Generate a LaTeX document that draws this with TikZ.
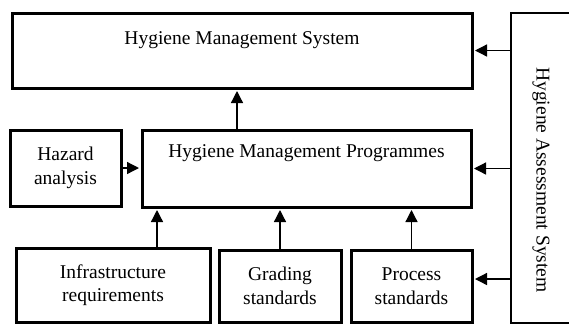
\documentclass[tikz,border=0pt]{standalone}
\usepackage{fontspec}
\setmainfont{Liberation Serif}
\usetikzlibrary{arrows.meta}

\begin{document}
\begin{tikzpicture}[x=1pt,y=-1pt,
  every node/.style={font=\fontsize{19.5}{23.5}\selectfont},
  box/.style={draw,line width=3pt,inner sep=0pt,align=center},
  arr/.style={line width=1.3pt,shorten >=1.5pt,-{Triangle[length=12pt,width=12pt]}}]
\useasboundingbox (0,0) rectangle (569,325);

\node[box,minimum width=460pt,text height=31pt,text depth=44pt] (hms) at (242,50.5) {Hygiene Management System};
\node[box,minimum width=329pt,text height=27.5pt,text depth=49.5pt] (prog) at (306.5,168.5) {Hygiene Management Programmes};
\node[box,minimum width=111pt,minimum height=76pt] (haz) at (65.5,168) {Hazard\\analysis};
\node[box,minimum width=194pt,minimum height=74pt] (infra) at (113,285) {Infrastructure\\requirements};
\node[box,minimum width=122pt,minimum height=72pt] (grad) at (280,286) {Grading\\standards};
\node[box,minimum width=121pt,minimum height=72pt] (proc) at (411.5,286) {Process\\standards};

\node[draw,line width=2.5pt,inner sep=0pt,minimum width=60pt,minimum height=310pt] (asys) at (541,168) {};
\node[rotate=-90] (asystext) at (541,180) {Hygiene Assessment System};

\coordinate (procin) at ([yshift=7pt]proc.east);
\coordinate (progout) at ([xshift=-69.5pt]prog.north);
\coordinate (infraout) at ([xshift=44pt]infra.north);

\draw[arr] (asys.west |- hms.east) -- (hms.east);
\draw[arr] (asys.west |- prog.east) -- (prog.east);
\draw[arr] (asys.west |- procin) -- (procin);
\draw[arr] (haz.east) -- (haz.east -| prog.west);
\draw[arr] (progout) -- (progout |- hms.south);
\draw[arr] (infraout) -- (infraout |- prog.south);
\draw[arr] (grad.north) -- (grad.north |- prog.south);
\draw[arr] (proc.north) -- (proc.north |- prog.south);
\end{tikzpicture}
\end{document}
